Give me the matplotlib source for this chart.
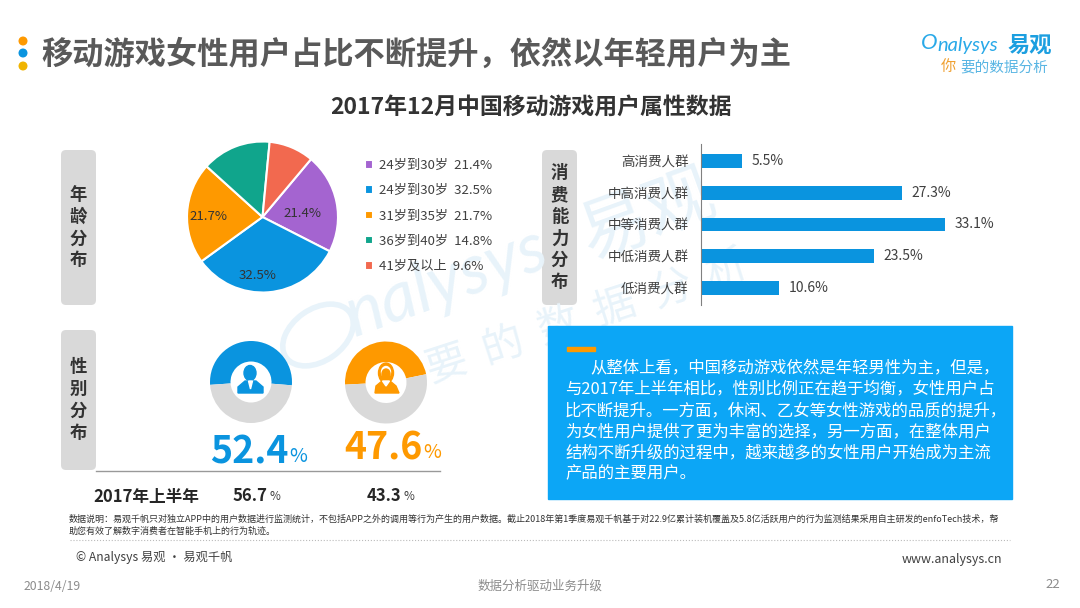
import matplotlib
matplotlib.use('Agg')
import matplotlib.pyplot as plt
from matplotlib.patches import Circle, Ellipse, FancyBboxPatch, Polygon, Rectangle

plt.rcParams['font.family'] = ['Noto Sans CJK SC', 'DejaVu Sans']

# data
age_labels = ['24岁到30岁  21.4%', '24岁到30岁  32.5%', '31岁到35岁  21.7%', '36岁到40岁  14.8%', '41岁及以上  9.6%']
age_values = [21.4, 32.5, 21.7, 14.8, 9.6]
consume_labels = ['高消费人群', '中高消费人群', '中等消费人群', '中低消费人群', '低消费人群']
consume_values = [5.5, 27.3, 33.1, 23.5, 10.6]
male_share = [52.4, 47.6]
female_share = [47.6, 52.4]
male_2017h1 = '56.7'
female_2017h1 = '43.3'
box_lines = [
    '从整体上看，中国移动游戏依然是年轻男性为主，但是，',
    '与2017年上半年相比，性别比例正在趋于均衡，女性用户占',
    '比不断提升。一方面，休闲、乙女等女性游戏的品质的提升，',
    '为女性用户提供了更为丰富的选择，另一方面，在整体用户',
    '结构不断升级的过程中，越来越多的女性用户开始成为主流',
    '产品的主要用户。',
]
note_lines = [
    '数据说明：易观千帆只对独立APP中的用户数据进行监测统计，不包括APP之外的调用等行为产生的用户数据。截止2018年第1季度易观千帆基于对22.9亿累计装机覆盖及5.8亿活跃用户的行为监测结果采用自主研发的enfoTech技术，帮',
    '助您有效了解数字消费者在智能手机上的行为轨迹。',
]

PURPLE = '#a464d0'
BLUE = '#0a94df'
ORANGE = '#fe9900'
GREEN = '#10a58c'
RED = '#f2694f'
GREY = '#d9d9d9'
TEXT = '#404040'
WATERMARK = '#e8f3fa'
age_colors = [PURPLE, BLUE, ORANGE, GREEN, RED]

W, H = 1080, 608
fig = plt.figure(figsize=(W / 100, H / 100), dpi=100, facecolor='white')


# axes placed by pixel box of the slide
def px_axes(x0, y0, x1, y1, z=2):
    ax = fig.add_axes([x0 / W, 1 - y1 / H, (x1 - x0) / W, (y1 - y0) / H], zorder=z)
    ax.patch.set_alpha(0)
    return ax


back = px_axes(0, 0, W, H, z=0)
back.set_xlim(0, W)
back.set_ylim(H, 0)
back.axis('off')

# watermark
back.add_patch(Ellipse((318, 335), 78, 52, angle=-35, fc='none', ec=WATERMARK, lw=4))
back.text(348, 318, 'nalysys', fontsize=50, color=WATERMARK, rotation=20, family='Lato', style='italic',
          ha='left', va='center', rotation_mode='anchor')
back.text(582, 240, '易观', fontsize=50, color=WATERMARK, rotation=20, ha='left', va='center', rotation_mode='anchor')
for i, ch in enumerate('要的数据分析'):
    back.text(447 + i * 56, 365 - i * 19, ch, fontsize=30, color=WATERMARK, rotation=18, ha='center', va='center')

# header
for y, c in zip([41, 53, 66], [ORANGE, BLUE, '#f0b400']):
    back.add_patch(Circle((23, y), 3.8, color=c))
back.text(41, 55, '移动游戏女性用户占比不断提升，依然以年轻用户为主', fontsize=22.5, fontweight='bold',
          color='#595959', va='center', ha='left')
back.text(531, 108, '2017年12月中国移动游戏用户属性数据', fontsize=16.5, fontweight='bold',
          color='#333333', va='center', ha='center')

# logo
back.text(921, 43, 'O', fontsize=16, color='#29a9e8', family='Lato', style='italic', va='center', ha='left')
back.text(937, 46, 'nalysys', fontsize=14.5, color='#29a9e8', family='Lato', style='italic', va='center', ha='left')
back.text(1008, 45, '易观', fontsize=16, color='#1c9fe0', fontweight='bold', va='center', ha='left')
back.text(941, 66, '你', fontsize=11, color='#f0a030', va='center', ha='left')
back.text(960, 67, '要的数据分析', fontsize=10.5, color='#58b5e3', va='center', ha='left')

# grey side tags
for x0, y0, x1, y1, word in [(61, 150, 96, 305, '年龄分布'), (542, 150, 577, 305, '消费能力分布'), (61, 330, 96, 470, '性别分布')]:
    back.add_patch(FancyBboxPatch((x0 + 5, y0 + 5), x1 - x0 - 10, y1 - y0 - 10,
                                  boxstyle='round,pad=5,rounding_size=5', fc=GREY, ec='none'))
    n = len(word)
    mid = (y0 + y1) / 2
    for i, ch in enumerate(word):
        back.text((x0 + x1) / 2, mid + (i - (n - 1) / 2) * 21.7, ch, fontsize=12.5, fontweight='bold',
                  color='#333333', ha='center', va='center')

# age pie
pie_ax = px_axes(187, 141.5, 338, 292.5)
wedges, _, autotexts = pie_ax.pie(age_values, colors=age_colors, startangle=50, counterclock=False, radius=1,
                                  wedgeprops={'edgecolor': 'white', 'linewidth': 1.5},
                                  autopct=lambda p: f'{p:.1f}%' if p > 20 else '', pctdistance=0.72,
                                  textprops={'fontsize': 9.5, 'color': '#333333'})
autotexts[0].set_position((0.53, 0.05))
autotexts[1].set_position((-0.06, -0.78))
autotexts[2].set_position((-0.71, 0.0))
pie_ax.set_xlim(-1, 1)
pie_ax.set_ylim(-1, 1)
fig.legend(wedges, age_labels, loc='upper left', bbox_to_anchor=(365 / W, 1 - 159 / H), frameon=False,
           fontsize=9.5, labelcolor=TEXT, handlelength=0.6, handleheight=0.6, handletextpad=0.45,
           labelspacing=0.93, borderpad=0, borderaxespad=0)

# consumption bars
bar_ax = px_axes(701, 144, 1012, 305)
ypos = range(len(consume_values))
bars = bar_ax.barh(list(ypos), consume_values, height=0.44, color=BLUE)
bar_ax.set_ylim(4.55, -0.55)
bar_ax.set_xlim(0, 311 / 7.37)
bar_ax.set_yticks(list(ypos), consume_labels, fontsize=9.75, color=TEXT)
bar_ax.set_xticks([])
bar_ax.tick_params(axis='y', length=0, pad=9)
for s in ['top', 'right', 'bottom']:
    bar_ax.spines[s].set_visible(False)
bar_ax.spines['left'].set_color('#808080')
bar_ax.bar_label(bars, labels=[f'{v}%' for v in consume_values], padding=7, fontsize=10, color=TEXT)

# gender donuts
for box, share, start, col in [((210, 341, 292, 423), male_share, 184, BLUE),
                               ((345, 341.5, 427, 423.5), female_share, 183, ORANGE)]:
    d_ax = px_axes(*box)
    d_ax.pie(share, colors=[col, GREY], startangle=start, counterclock=False, radius=1,
             wedgeprops={'width': 0.5})
    d_ax.set_xlim(-1, 1)
    d_ax.set_ylim(-1, 1)

top = px_axes(0, 0, W, H, z=5)
top.set_xlim(0, W)
top.set_ylim(H, 0)
top.axis('off')

# icons inside donuts
top.add_patch(Ellipse((250, 373), 12, 15, color=BLUE))
top.add_patch(Polygon([(238, 393), (238, 387), (245, 381), (256, 381), (263, 387), (263, 393)], color=BLUE))
top.add_patch(Polygon([(248.5, 381), (252.5, 381), (250.5, 389)], color='white'))
top.add_patch(Ellipse((386, 373), 15, 20, color=ORANGE))
top.add_patch(Ellipse((386, 372), 9, 11, color='white'))
top.add_patch(Ellipse((386, 374), 8, 10, color=ORANGE))
top.add_patch(Polygon([(375, 393), (376, 386), (382, 381), (390, 381), (396, 386), (399, 393)], color=ORANGE))
top.add_patch(Polygon([(382.5, 381), (389.5, 381), (386, 386)], color='white'))

# big percentages
top.text(210, 452, f'{male_share[0]}', fontsize=27, fontweight='bold', color=BLUE, ha='left', va='center')
top.text(289, 457, '%', fontsize=14, color=BLUE, ha='left', va='center')
top.text(344, 448, f'{female_share[0]}', fontsize=27, fontweight='bold', color=ORANGE, ha='left', va='center')
top.text(423, 453, '%', fontsize=14, color=ORANGE, ha='left', va='center')
top.plot([96, 440], [471, 471], color='#999999', lw=1)

top.text(93, 497, '2017年上半年', fontsize=12, fontweight='bold', color='#262626', ha='left', va='center')
top.text(233, 496, male_2017h1, fontsize=12, fontweight='bold', color='#262626', ha='left', va='center')
top.text(269, 497, '%', fontsize=8.5, color=TEXT, ha='left', va='center')
top.text(367, 496, female_2017h1, fontsize=12, fontweight='bold', color='#262626', ha='left', va='center')
top.text(403, 497, '%', fontsize=8.5, color=TEXT, ha='left', va='center')

# blue text box
top.add_patch(Rectangle((548, 326), 464, 173, color='#0ca6f6'))
top.add_patch(Rectangle((567, 347), 28, 4, color=ORANGE))
for i, (line, y) in enumerate(zip(box_lines, [368, 389, 411, 432, 453, 474])):
    top.text(590 if i == 0 else 565, y, line, fontsize=11.8, color='white', ha='left', va='center')

# footer
top.text(69, 519, note_lines[0], fontsize=6.5, color='#333333', ha='left', va='center')
top.text(69, 531, note_lines[1], fontsize=6.5, color='#333333', ha='left', va='center')
top.plot([70, 1010], [540, 540], color='#bbbbbb', lw=0.8, ls=':')
top.text(76, 558, '© Analysys 易观 · 易观千帆', fontsize=8.8, color=TEXT, ha='left', va='center')
top.text(1002, 559, 'www.analysys.cn', fontsize=9, color=TEXT, ha='right', va='center')
top.text(24, 586, '2018/4/19', fontsize=8.8, color='#8c8c8c', ha='left', va='center')
top.text(540, 586, '数据分析驱动业务升级', fontsize=9, color='#8c8c8c', ha='center', va='center')
top.text(1060, 585, '22', fontsize=9.5, color='#8c8c8c', ha='right', va='center')

fig.savefig('out.png', dpi=100)
